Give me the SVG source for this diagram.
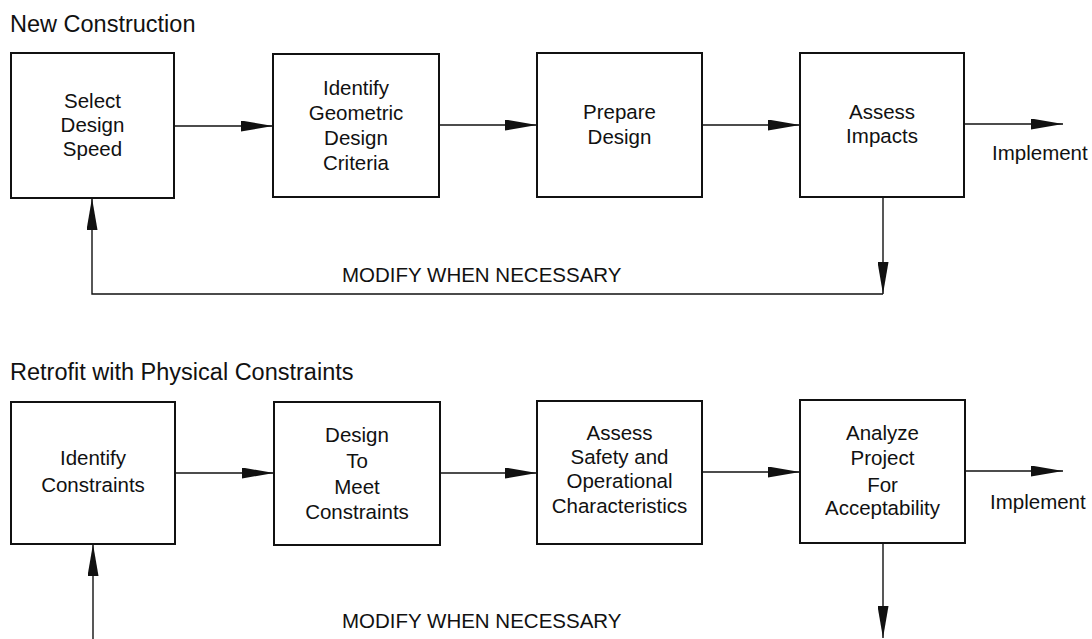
<svg xmlns="http://www.w3.org/2000/svg" width="1092" height="639" viewBox="0 0 1092 639">
  <style>
    .box { fill: #fff; stroke: #111; stroke-width: 2; }
    .t { font-family: "Liberation Sans", Arial, sans-serif; font-size: 20.5px; fill: #111; text-anchor: middle; }
    .title { font-family: "Liberation Sans", Arial, sans-serif; font-size: 23.5px; fill: #111; }
    .lbl { font-family: "Liberation Sans", Arial, sans-serif; font-size: 20.5px; fill: #111; }
    .c { fill: none; stroke: #111; stroke-width: 1.4; }
  </style>
  <defs>
    <marker id="ah" markerUnits="userSpaceOnUse" viewBox="0 0 32 11" refX="32" refY="5.5" markerWidth="32" markerHeight="11" orient="auto">
      <path d="M0,0 L32,5.5 L0,11 Z" fill="#111"/>
    </marker>
  </defs>
  <rect width="1092" height="639" fill="#fff"/>

  <text class="title" x="10" y="32">New Construction</text>
  <text class="title" x="10" y="380">Retrofit with Physical Constraints</text>

  <g id="connectors">
    <path class="c" d="M174,126 H273" marker-end="url(#ah)"/>
    <path class="c" d="M439,125 H537" marker-end="url(#ah)"/>
    <path class="c" d="M702,125 H800" marker-end="url(#ah)"/>
    <path class="c" d="M964,124 H1063" marker-end="url(#ah)"/>
    <path class="c" d="M883,197 V294" marker-end="url(#ah)"/>
    <path class="c" d="M883,294 H92 V198" marker-end="url(#ah)"/>

    <path class="c" d="M175,473 H274" marker-end="url(#ah)"/>
    <path class="c" d="M440,473 H537" marker-end="url(#ah)"/>
    <path class="c" d="M702,472 H800" marker-end="url(#ah)"/>
    <path class="c" d="M965,471 H1063" marker-end="url(#ah)"/>
    <path class="c" d="M93,639 V544" marker-end="url(#ah)"/>
    <path class="c" d="M883,543 V638" marker-end="url(#ah)"/>

    <text class="lbl" x="992" y="160">Implement</text>
    <text class="lbl" x="342" y="282">MODIFY WHEN NECESSARY</text>
    <text class="lbl" x="990" y="509">Implement</text>
    <text class="lbl" x="342" y="628">MODIFY WHEN NECESSARY</text>
  </g>

  <g id="select-design-speed">
    <rect class="box" x="11" y="53" width="163" height="145"/>
    <text class="t" x="92.5" y="108">Select</text>
    <text class="t" x="92.5" y="132">Design</text>
    <text class="t" x="92.5" y="156">Speed</text>
  </g>
  <g id="identify-geometric-criteria">
    <rect class="box" x="273" y="54" width="166" height="143"/>
    <text class="t" x="356" y="95">Identify</text>
    <text class="t" x="356" y="120">Geometric</text>
    <text class="t" x="356" y="145">Design</text>
    <text class="t" x="356" y="170">Criteria</text>
  </g>
  <g id="prepare-design">
    <rect class="box" x="537" y="53" width="165" height="144"/>
    <text class="t" x="619.5" y="119">Prepare</text>
    <text class="t" x="619.5" y="144">Design</text>
  </g>
  <g id="assess-impacts">
    <rect class="box" x="800" y="53" width="164" height="144"/>
    <text class="t" x="882" y="119">Assess</text>
    <text class="t" x="882" y="143">Impacts</text>
  </g>

  <g id="identify-constraints">
    <rect class="box" x="11" y="402" width="164" height="142"/>
    <text class="t" x="93" y="465">Identify</text>
    <text class="t" x="93" y="492">Constraints</text>
  </g>
  <g id="design-to-meet-constraints">
    <rect class="box" x="274" y="402" width="166" height="143"/>
    <text class="t" x="357" y="442">Design</text>
    <text class="t" x="357" y="468">To</text>
    <text class="t" x="357" y="494">Meet</text>
    <text class="t" x="357" y="519">Constraints</text>
  </g>
  <g id="assess-safety">
    <rect class="box" x="537" y="401" width="165" height="143"/>
    <text class="t" x="619.5" y="440">Assess</text>
    <text class="t" x="619.5" y="464">Safety and</text>
    <text class="t" x="619.5" y="488">Operational</text>
    <text class="t" x="619.5" y="513">Characteristics</text>
  </g>
  <g id="analyze-project">
    <rect class="box" x="800" y="400" width="165" height="143"/>
    <text class="t" x="882.5" y="440">Analyze</text>
    <text class="t" x="882.5" y="465">Project</text>
    <text class="t" x="882.5" y="492">For</text>
    <text class="t" x="882.5" y="515">Acceptability</text>
  </g>
</svg>
